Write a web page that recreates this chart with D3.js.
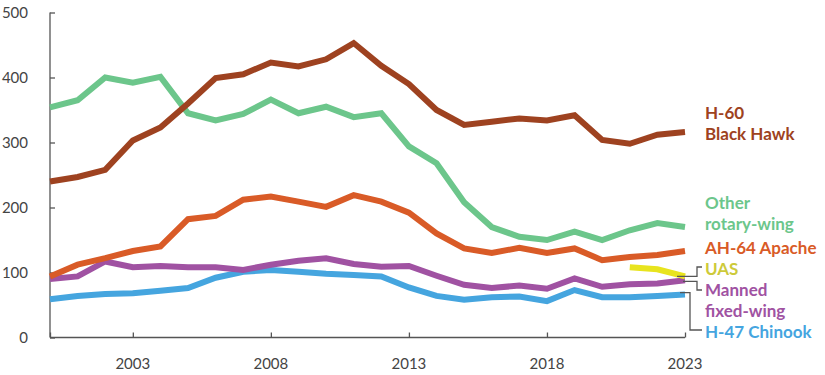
<!DOCTYPE html>
<html>
<head>
<meta charset="utf-8">
<script src="https://cdn.jsdelivr.net/npm/d3@7"></script>
<style>
  body { margin: 0; background: #fff; }
  svg text { font-family: Lato, "Open Sans", sans-serif; }
</style>
</head>
<body>
<div id="chart"></div>
<script>
// Years 2000 - 2023
const years = d3.range(2000, 2024);

const blackHawk = [240, 247, 258, 303, 323, 360, 399, 405, 423, 417, 428, 453, 418, 390, 350, 327, 332, 337, 334, 342, 304, 298, 312, 316];
const otherRotary = [354, 365, 400, 392, 401, 345, 334, 344, 366, 345, 355, 339, 345, 294, 268, 208, 170, 155, 150, 163, 150, 165, 176, 170];
const apache = [94, 112, 122, 133, 140, 182, 187, 212, 217, 209, 201, 219, 209, 192, 160, 137, 130, 138, 130, 137, 119, 124, 127, 133];
const mannedFixed = [90, 94, 117, 108, 110, 108, 108, 104, 112, 118, 122, 113, 109, 110, 95, 81, 76, 80, 75, 91, 78, 82, 83, 88];
const chinook = [59, 64, 67, 68, 72, 76, 92, 101, 104, 101, 98, 96, 94, 77, 64, 58, 62, 63, 56, 73, 62, 62, 64, 66];
const uasYears = [2021, 2022, 2023];
const uas = [108, 105, 94];

const yTicks = [0, 100, 200, 300, 400, 500];
const xTicks = [2000, 2003, 2008, 2013, 2018, 2023];

// series drawn back to front
const series = [
  { name: "H-47 Chinook", x: years, y: chinook, color: "#45a5df" },
  { name: "Manned fixed-wing", x: years, y: mannedFixed, color: "#a052a2" },
  { name: "AH-64 Apache", x: years, y: apache, color: "#d95b27" },
  { name: "Other rotary-wing", x: years, y: otherRotary, color: "#6cc68b" },
  { name: "H-60 Black Hawk", x: years, y: blackHawk, color: "#9e4220" },
  { name: "UAS", x: uasYears, y: uas, color: "#e8e41e" }
];

// labels on the right: lines of text with baseline positions
const labels = [
  { lines: ["H-60", "Black Hawk"], y: 119, color: "#9e4220" },
  { lines: ["Other", "rotary-wing"], y: 209, color: "#6cc68b" },
  { lines: ["AH-64 Apache"], y: 254, color: "#d95b27" },
  { lines: ["UAS"], y: 275, color: "#cdca3a" },
  { lines: ["Manned", "fixed-wing"], y: 296, color: "#a052a2" },
  { lines: ["H-47 Chinook"], y: 338, color: "#45a5df" }
];

const width = 825, height = 375;
const margin = { left: 50, right: 140, top: 12.5, bottom: 37.5 };

const x = d3.scaleLinear().domain([2000, 2023]).range([margin.left, width - margin.right]);
const y = d3.scaleLinear().domain([0, 500]).range([height - margin.bottom, margin.top]);

const svg = d3.select("#chart").append("svg")
  .attr("width", width)
  .attr("height", height);

// y axis
const yAxis = svg.append("g")
  .attr("transform", `translate(${margin.left},0)`)
  .call(d3.axisRight(y).tickValues(yTicks).tickSize(5).tickFormat(""));
yAxis.selectAll("line, path").attr("stroke", "#555").attr("stroke-width", 1.3);
yAxis.select(".domain").attr("d", `M0,${y(500)}V${y(0)}`);

svg.append("g").selectAll("text")
  .data(yTicks)
  .enter().append("text")
  .attr("x", 28)
  .attr("y", d => y(d))
  .attr("dy", "0.35em")
  .attr("text-anchor", "end")
  .attr("fill", "#444")
  .style("font-size", "15px")
  .text(d => d);

// x axis
const xAxis = svg.append("g")
  .attr("transform", `translate(0,${y(0)})`)
  .call(d3.axisTop(x).tickValues(xTicks).tickSize(5).tickFormat(""));
xAxis.selectAll("line, path").attr("stroke", "#555").attr("stroke-width", 1.3);
xAxis.select(".domain").attr("d", `M${x(2000)},0H${x(2023)}`);

svg.append("g").selectAll("text")
  .data(xTicks.slice(1))
  .enter().append("text")
  .attr("x", d => x(d))
  .attr("y", 369)
  .attr("text-anchor", "middle")
  .attr("fill", "#444")
  .style("font-size", "15px")
  .text(d => d);

// lines
const line = d3.line()
  .x(d => x(d[0]))
  .y(d => y(d[1]));

svg.append("g").selectAll("path")
  .data(series)
  .enter().append("path")
  .attr("d", s => line(s.x.map((yr, i) => [yr, s.y[i]])))
  .attr("fill", "none")
  .attr("stroke", s => s.color)
  .attr("stroke-width", 6)
  .attr("stroke-linejoin", "miter");

// leader lines for the crowded labels
const xEnd = x(2023);
const leaders = [
  [[xEnd - 8, y(94)], [697, y(94)], [697, 267], [702, 267]],
  [[xEnd - 2, y(88) + 1], [697, y(88) + 1], [697, 290], [702, 290]],
  [[xEnd - 5, y(66) - 2], [690, y(66) - 2], [690, 330], [702, 330]]
];
svg.append("g").selectAll("path")
  .data(leaders)
  .enter().append("path")
  .attr("d", d => d3.line()(d))
  .attr("fill", "none")
  .attr("stroke", "#555")
  .attr("stroke-width", 1.3);

// series labels
const lab = svg.append("g").selectAll("text")
  .data(labels)
  .enter().append("text")
  .attr("x", 705)
  .attr("y", d => d.y)
  .attr("fill", d => d.color)
  .style("font-size", "17px")
  .style("font-weight", "bold");

lab.selectAll("tspan")
  .data(d => d.lines)
  .enter().append("tspan")
  .attr("x", 705)
  .attr("dy", (d, i) => i === 0 ? 0 : 21)
  .text(d => d);
</script>
</body>
</html>
